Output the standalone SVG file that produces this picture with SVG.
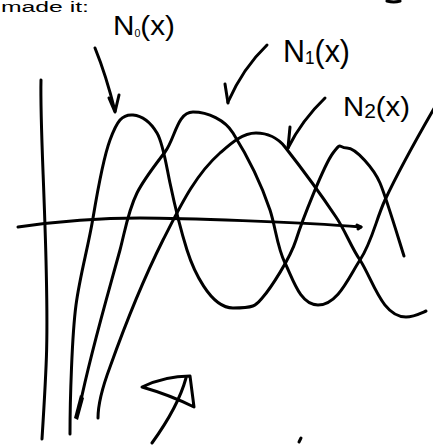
<svg xmlns="http://www.w3.org/2000/svg" width="433" height="445" viewBox="0 0 433 445">
<style>
.ink{fill:none;stroke:#000;stroke-width:3;stroke-linecap:round;stroke-linejoin:round}
.lbl{font-family:"Liberation Sans",Arial,sans-serif;fill:#000}
</style>
<rect width="433" height="445" fill="#fff"/>
<text class="lbl" x="1" y="12" font-size="14" textLength="88" lengthAdjust="spacingAndGlyphs">made it:</text>
<path class="ink" d="M387,1 Q394,3 400,1"/>
<g id="axes">
<path class="ink" d="M41,80 C40,120 44,180 46,260 S47,360 42,439"/>
<path class="ink" d="M18,227 C60,221 100,218 140,218 S300,222 361,227"/>
<path class="ink" stroke-width="2" d="M357,225 L361,227 L358,229"/>
</g>
<g id="curve-N0">
<path class="ink" d="M70,434 C70,400 72,335 76,305 S88,248 93,218 S103,159 110,140 S122,114 133,115 S151,123 157,133 S166,164 170,183 S181,231 187,250 S210,308 233,308 S256,305 263,297 S290,259 296,240 S324,165 333,153 S338,148 347,148 S374,169 380,183 S398,237 404,256"/>
</g>
<g id="curve-N1">
<path class="ink" d="M80,405 C90.6,353 106,301 120,250 C125,231 128,211 137,193 C144,179 155.4,164.8 165,152 C175,139 177,112 193,112 C208,112 225,120 233,133 C248,157 261,183 270,210 C275.6,227 277,247 285,263 C293,279 300,305 318,305 C338,305 349,276.6 360,260 C372,242 375.8,220 385,200 C399,170 416.5,138.7 436,105"/>
<path d="M80,395 L84,398 L78,420 L74,418 Z" fill="#000"/>
</g>
<g id="curve-N2">
<path class="ink" d="M98,418 C98,401 104,383 110,367 C125,325 143,280 163,240 C179,209 194,176 220,153 C230.5,143.8 242,133 256,133 C267,133 278,138 285,147 C303,170 320,193 336,217 C345,230 351,247 360,260 C373,280 382,317 406,317 C413,317 419,314 426,311"/>
</g>
<g id="rotation-arrow">
<path class="ink" d="M152,443 C165,425 180,400 186,378"/>
<path class="ink" d="M142,387 Q165,376 190,376 L194,407 Q170,395 142,387 Z"/>
</g>
<g id="label-N0">
<text class="lbl" x="113" y="35" font-size="28" textLength="62" lengthAdjust="spacingAndGlyphs">N<tspan font-size="10" dy="2">0</tspan><tspan dy="-2">(x)</tspan></text>
</g>
<g id="label-N1">
<text class="lbl" x="283" y="62" font-size="32" textLength="67" lengthAdjust="spacingAndGlyphs">N<tspan font-size="18" dy="2">1</tspan><tspan dy="-2">(x)</tspan></text>
</g>
<g id="label-N2">
<text class="lbl" x="343" y="116" font-size="28" textLength="67" lengthAdjust="spacingAndGlyphs">N<tspan font-size="20" dy="2">2</tspan><tspan dy="-2">(x)</tspan></text>
</g>
<g id="connectors">
<path class="ink" d="M95,48 Q106,75 115,111"/>
<path class="ink" d="M109,98 L115,112 L119,95"/>
<path class="ink" d="M267,45 Q243,68 228,102"/>
<path class="ink" d="M225,84 L228,103"/>
<path class="ink" d="M325,98 Q302,120 288,148"/>
<path class="ink" d="M290,127 L288,148"/>
</g>
<path class="ink" stroke-width="1.5" d="M299,442 L301,438"/>
</svg>
